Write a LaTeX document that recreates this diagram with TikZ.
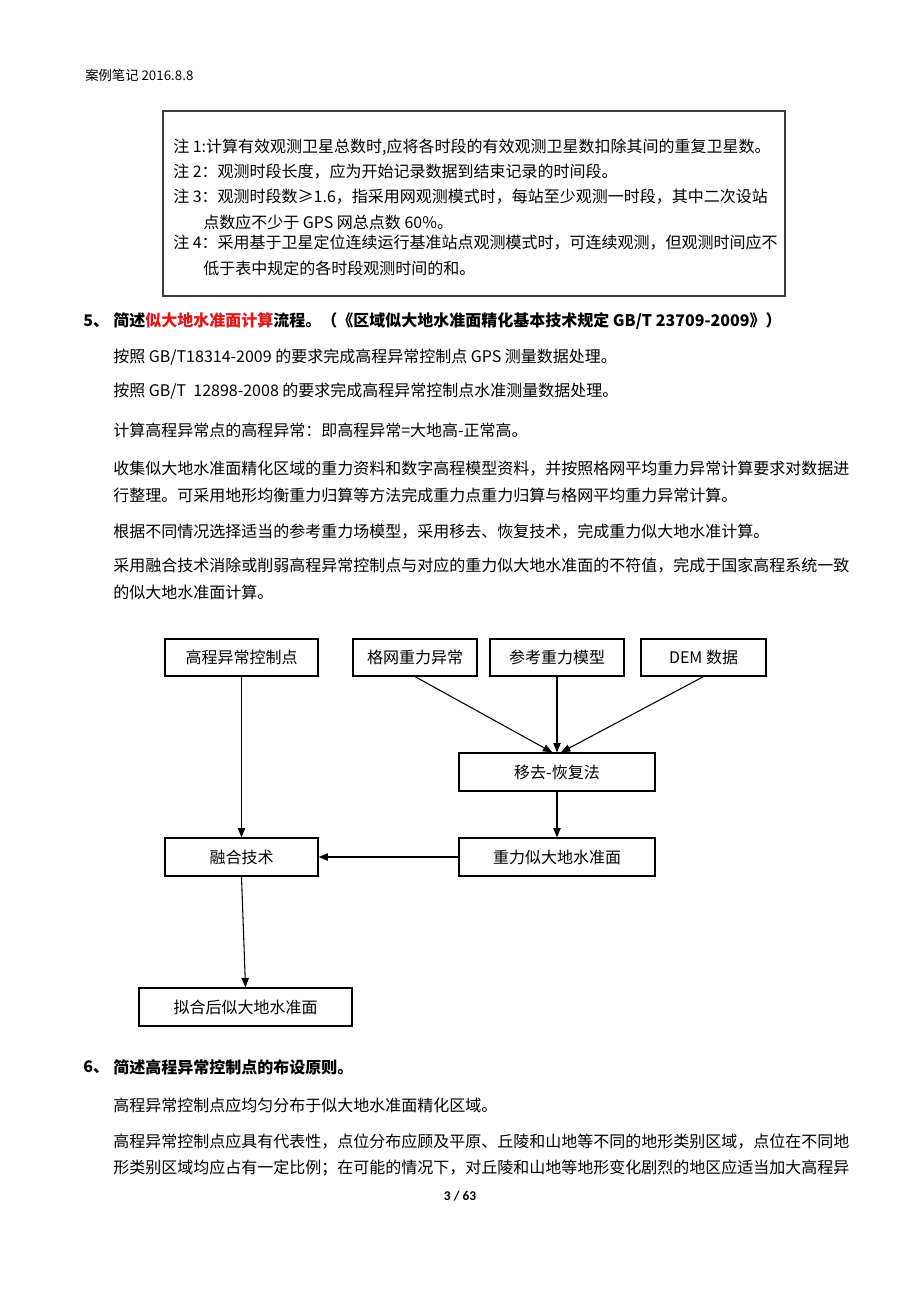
\documentclass[tikz,border=0pt]{standalone}
\usepackage{fontspec}
\setmainfont{Noto Sans CJK SC}
\newfontfamily\calib{Carlito}
\usetikzlibrary{arrows.meta}
\definecolor{redtxt}{RGB}{230,20,20}
\definecolor{notegray}{RGB}{60,60,60}
\begin{document}
\begin{tikzpicture}[x=0.75pt,y=-0.75pt,
  txt/.style={anchor=west,inner sep=0pt,font=\fontsize{12}{14}\selectfont},
  hd/.style={anchor=west,inner sep=0pt,font=\fontsize{12}{14}\selectfont\bfseries},
  fbox/.style={draw,line width=0.9pt,inner sep=0pt,font=\fontsize{12}{14}\selectfont},
  arr/.style={-{Triangle[length=7pt,width=5.5pt]},line width=0.8pt}]
\useasboundingbox (0,0) rectangle (920,1302);
\fill[white] (0,0) rectangle (920,1302);

% header
\node[anchor=west,inner sep=0pt,font=\fontsize{10}{12}\selectfont] (hdr) at (85,75) {案例笔记 2016.8.8};

% note box
\draw[notegray,line width=0.8pt] (163,111) rectangle (785,296);
\node[txt] (n1) at (173,147) {注 1:计算有效观测卫星总数时,应将各时段的有效观测卫星数扣除其间的重复卫星数。};
\node[txt] (n2) at (173,172) {注 2：观测时段长度，应为开始记录数据到结束记录的时间段。};
\node[txt] (n3) at (173,197) {注 3：观测时段数≥1.6，指采用网观测模式时，每站至少观测一时段，其中二次设站};
\node[txt] (n3b) at (203,222) {点数应不少于 GPS 网总点数 60\%。};
\node[txt] (n4) at (173,243) {注 4：采用基于卫星定位连续运行基准站点观测模式时，可连续观测，但观测时间应不};
\node[txt] (n4b) at (203,268) {低于表中规定的各时段观测时间的和。};

% section 5
\node[hd] (s5n) at (83,321) {5、};
\node[hd] (s5) at (113,321) {简述\textcolor{redtxt}{似大地水准面计算}流程。（《区域似大地水准面精化基本技术规定 GB/T 23709-2009》）};
\node[txt] (p1) at (113,357) {按照 GB/T18314-2009 的要求完成高程异常控制点 GPS 测量数据处理。};
\node[txt] (p2) at (113,391) {按照 GB/T\ \ 12898-2008 的要求完成高程异常控制点水准测量数据处理。};
\node[txt] (p3) at (113,430) {计算高程异常点的高程异常：即高程异常=大地高-正常高。};
\node[txt] (p4) at (113,469) {收集似大地水准面精化区域的重力资料和数字高程模型资料，并按照格网平均重力异常计算要求对数据进};
\node[txt] (p4b) at (113,495) {行整理。可采用地形均衡重力归算等方法完成重力点重力归算与格网平均重力异常计算。};
\node[txt] (p5) at (113,532) {根据不同情况选择适当的参考重力场模型，采用移去、恢复技术，完成重力似大地水准计算。};
\node[txt] (p6) at (113,566) {采用融合技术消除或削弱高程异常控制点与对应的重力似大地水准面的不符值，完成于国家高程系统一致};
\node[txt] (p6b) at (113,592) {的似大地水准面计算。};

% flowchart
\node[fbox,minimum width=114.75pt,minimum height=27.75pt] (k1) at (241.5,657.5) {高程异常控制点};
\node[fbox,minimum width=93pt,minimum height=27.75pt] (k2) at (415,657.5) {格网重力异常};
\node[fbox,minimum width=100.5pt,minimum height=27.75pt] (k3) at (557,657.5) {参考重力模型};
\node[fbox,minimum width=93.75pt,minimum height=27.75pt] (k4) at (703.5,657.5) {DEM 数据};
\node[fbox,minimum width=147pt,minimum height=28.5pt] (k5) at (557,772) {移去-恢复法};
\node[fbox,minimum width=147pt,minimum height=28.5pt] (k6) at (557,857) {重力似大地水准面};
\node[fbox,minimum width=114.75pt,minimum height=28.5pt] (k7) at (241.5,857) {融合技术};
\node[fbox,minimum width=159.75pt,minimum height=28.5pt] (k8) at (245.5,1007) {拟合后似大地水准面};

\draw[arr] (k1.south) -- (k7.north);
\draw[arr] (k2.south) -- ([xshift=-3.5pt]k5.north);
\draw[arr] (k3.south) -- (k5.north);
\draw[arr] (k4.south) -- ([xshift=3pt]k5.north);
\draw[arr] (k5.south) -- (k6.north);
\draw[arr] (k6.west) -- (k7.east);
\draw[arr] (k7.south) -- (k8.north);

% section 6
\node[hd] (s6n) at (83,1067) {6、};
\node[hd] (s6) at (113,1067) {简述高程异常控制点的布设原则。};
\node[txt] (q1) at (113,1105) {高程异常控制点应均匀分布于似大地水准面精化区域。};
\node[txt] (q2) at (113,1142) {高程异常控制点应具有代表性，点位分布应顾及平原、丘陵和山地等不同的地形类别区域，点位在不同地};
\node[txt] (q2b) at (113,1168) {形类别区域均应占有一定比例；在可能的情况下，对丘陵和山地等地形变化剧烈的地区应适当加大高程异};

% page number
\node[inner sep=0pt,font=\calib\fontsize{10}{12}\selectfont\bfseries] (pg) at (460,1196) {3 / 63};
\end{tikzpicture}
\end{document}
